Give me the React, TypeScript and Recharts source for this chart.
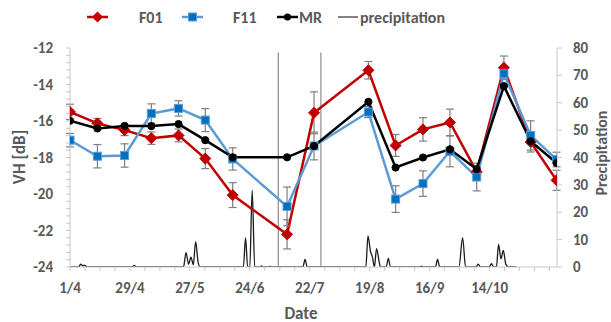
import React from 'react';
import { ComposedChart, Line, XAxis, YAxis, ErrorBar, ReferenceLine } from 'recharts';

// Days since 1 April for each SAR acquisition
const sarDays = [0, 12.8, 25.5, 38.0, 50.7, 63.2, 76.0, 101.4, 114.0, 139.4, 152.1, 164.9, 177.5, 190.0, 202.7, 215.2, 227.3];
const f01 = [-15.5, -16.13, -16.5, -16.94, -16.79, -18.06, -20.06, -22.21, -15.55, -13.22, -17.34, -16.46, -16.08, -18.79, -13.08, -17.15, -19.25];
const f01Err = [0.42, 0.27, 0.3, 0.34, 0.35, 0.55, 0.68, 0.8, 1.15, 0.48, 0.6, 0.64, 0.73, 0.3, 0.64, 0.55, 0.55];
const f11 = [-17.05, -17.93, -17.89, -15.59, -15.31, -15.95, -18.08, -20.68, -17.37, -15.51, -20.28, -19.43, -17.66, -19.07, -13.41, -16.79, -18.11];
const f11Err = [0.37, 0.64, 0.64, 0.53, 0.42, 0.63, 0.61, 1.06, 0.76, 0.3, 0.73, 0.7, 0.85, 0.76, 0.3, 0.8, 0.4];
const mr = [-15.99, -16.41, -16.27, -16.28, -16.17, -17.05, -17.99, -17.99, -17.37, -14.95, -18.55, -18.0, -17.55, -18.64, -14.09, -17.11, -18.3];

// Precipitation (mm), day since 1 April
const precipDays = [0, 4, 5, 6, 7, 8, 29, 30, 31, 53, 54.2, 55.4, 56.5, 57.6, 58.7, 59.8, 60.8, 81, 82, 83, 84, 85.1, 86.3, 89, 89.5, 90, 93, 93.5, 94, 108.8, 109.8, 110.8, 138.2, 139.2, 140.3, 141.3, 142.2, 143.2, 144.4, 145, 147.7, 148.7, 149.7, 163.5, 164.2, 165, 170.7, 171.7, 172.7, 181.7, 183.4, 184.8, 189.7, 190.7, 191.7, 195.9, 196.9, 197.9, 199.2, 200.2, 201.3, 202.4, 203.6, 204.8, 208.6];
const precipVals = [0, 0, 1.0, 0.5, 0.6, 0, 0, 0.6, 0, 0, 5.2, 1.0, 3.6, 0.8, 9.3, 2.0, 0, 0, 10.7, 0, 0, 28, 0, 0, 0.4, 0, 0, 0.3, 0, 0, 2.8, 0, 0, 11.4, 6.0, 3.5, 0, 6.7, 2.0, 0, 0, 3.1, 0, 0, 0.3, 0, 0, 2.8, 0, 0, 10.7, 0, 0, 1.0, 0, 0, 1.2, 0, 0, 8.3, 3.0, 6.1, 1.0, 0, 0];

const xTicks = [0, 7, 14, 21, 28, 35, 42, 49, 56, 63, 70, 77, 84, 91, 98, 105, 112, 119, 126, 133, 140, 147, 154, 161, 168, 175, 182, 189, 196, 203, 210, 217, 224];
const xLabelDays = [0, 28, 56, 84, 112, 140, 168, 196];
const xLabels = ['1/4', '29/4', '27/5', '24/6', '22/7', '19/8', '16/9', '14/10'];
const leftTicks = [-24, -23.6, -23.2, -22.8, -22.4, -22, -21.6, -21.2, -20.8, -20.4, -20, -19.6, -19.2, -18.8, -18.4, -18, -17.6, -17.2, -16.8, -16.4, -16, -15.6, -15.2, -14.8, -14.4, -14, -13.6, -13.2, -12.8, -12.4, -12];
const leftMajor = [-24, -22, -20, -18, -16, -14, -12];
const rightTicks = [0, 10, 20, 30, 40, 50, 60, 70, 80];
const markerDays = [97.3, 117.2];

const sarData = sarDays.map((d, i) => ({ d, f01: f01[i], f01Err: f01Err[i], f11: f11[i], f11Err: f11Err[i], mr: mr[i] }));
const precipData = precipDays.map((d, i) => ({ d, p: precipVals[i] }));

const FONT = 'Carlito, Lato, "Open Sans", sans-serif';
const TXT = '#595959';
const AX = '#c8c8c8';

const Diamond = (props: any) => {
  const { cx, cy, index } = props;
  if (cx == null || cy == null) return <g key={index} />;
  const s = 5.5;
  return <path key={index} d={`M${cx},${cy - s}L${cx + s},${cy}L${cx},${cy + s}L${cx - s},${cy}Z`} fill="#C00000" stroke="#C00000" strokeWidth={1} />;
};
const Square = (props: any) => {
  const { cx, cy, index } = props;
  if (cx == null || cy == null) return <g key={index} />;
  const s = 4;
  return <rect key={index} x={cx - s} y={cy - s} width={2 * s} height={2 * s} fill="#0070C0" stroke="#5B9BD5" strokeWidth={1} />;
};
const Circle = (props: any) => {
  const { cx, cy, index } = props;
  if (cx == null || cy == null) return <g key={index} />;
  return <circle key={index} cx={cx} cy={cy} r={3.6} fill="#000" stroke="#000" />;
};

const LeftTick = (props: any) => {
  const { x, y, payload } = props;
  if (!leftMajor.includes(payload.value)) return <g />;
  return (
    <text x={x} y={y} textAnchor="end" dominantBaseline="central" fill={TXT} fontFamily={FONT} fontWeight={700} fontSize={15}>
      {payload.value}
    </text>
  );
};
const RightTick = (props: any) => {
  const { x, y, payload } = props;
  return (
    <text x={x} y={y} textAnchor="start" dominantBaseline="central" fill={TXT} fontFamily={FONT} fontWeight={700} fontSize={15}>
      {payload.value}
    </text>
  );
};
const BottomTick = (props: any) => {
  const { x, payload } = props;
  const idx = xLabelDays.indexOf(payload.value);
  if (idx < 0) return <g />;
  return (
    <text x={x} y={288} textAnchor="middle" dominantBaseline="central" fill={TXT} fontFamily={FONT} fontWeight={700} fontSize={15}>
      {xLabels[idx]}
    </text>
  );
};

const Overlay = () => (
  <svg width={611} height={322} style={{ position: 'absolute', left: 0, top: 0, pointerEvents: 'none' }}>
    <g fontFamily={FONT} fontWeight={700} fontSize={16} fill={TXT}>
      <line x1={87} y1={17} x2={108} y2={17} stroke="#C00000" strokeWidth={2.5} />
      <path d="M97.5,11.5L103,17L97.5,22.5L92,17Z" fill="#C00000" />
      <text x={139} y={17} dominantBaseline="central">F01</text>
      <line x1={182} y1={17} x2={203} y2={17} stroke="#5B9BD5" strokeWidth={2.5} />
      <rect x={188.5} y={13} width={8} height={8} fill="#0070C0" stroke="#5B9BD5" />
      <text x={233} y={17} dominantBaseline="central">F11</text>
      <line x1={277} y1={17} x2={298} y2={17} stroke="#000" strokeWidth={2.5} />
      <circle cx={287.5} cy={17} r={3.6} fill="#000" />
      <text x={299} y={17} dominantBaseline="central">MR</text>
      <line x1={338} y1={17} x2={358} y2={17} stroke="#595959" strokeWidth={1.5} />
      <text x={360} y={17} dominantBaseline="central">precipitation</text>
      <text x={19.5} y={157} textAnchor="middle" dominantBaseline="central" fontSize={17} transform="rotate(-90 19.5 157)">VH [dB]</text>
      <text x={601} y={153} textAnchor="middle" dominantBaseline="central" fontSize={16} transform="rotate(-90 601 153)">Precipitation</text>
      <text x={301} y={313} textAnchor="middle" dominantBaseline="central" fontSize={17}>Date</text>
    </g>
  </svg>
);

export default function App() {
  return (
    <div style={{ position: 'absolute', left: 0, top: 0, width: 611, height: 322, background: '#fff' }}>
      <ComposedChart width={611} height={322} data={sarData} margin={{ top: 48, right: 0, bottom: 0, left: 0 }}>
        <XAxis
          dataKey="d"
          type="number"
          domain={[0, 227.5]}
          ticks={xTicks}
          interval={0}
          allowDataOverflow
          height={55}
          stroke={AX}
          tickSize={4}
          tickLine={{ stroke: AX }}
          tick={<BottomTick />}
        />
        <YAxis
          yAxisId="left"
          orientation="left"
          domain={[-24, -12]}
          ticks={leftTicks}
          interval={0}
          width={70}
          stroke={AX}
          tickSize={4}
          tickMargin={13}
          tickLine={{ stroke: AX }}
          tick={<LeftTick />}
          allowDataOverflow
        />
        <YAxis
          yAxisId="right"
          orientation="right"
          domain={[0, 80]}
          ticks={rightTicks}
          interval={0}
          width={54}
          stroke={AX}
          tickSize={5}
          tickMargin={11}
          tickLine={{ stroke: AX }}
          tick={<RightTick />}
          allowDataOverflow
        />
        {markerDays.map((m) => (
          <ReferenceLine
            key={m}
            yAxisId="left"
            segment={[{ x: m, y: -24 }, { x: m, y: -12.25 }]}
            stroke="#8c8c8c"
            strokeWidth={1.2}
          />
        ))}
        <Line
          yAxisId="right"
          data={precipData}
          dataKey="p"
          type="monotone"
          stroke="#1a1a1a"
          strokeWidth={1.3}
          dot={false}
          isAnimationActive={false}
        />
        <Line yAxisId="left" dataKey="f01" stroke="#C00000" strokeWidth={2.5} dot={<Diamond />} isAnimationActive={false}>
          <ErrorBar dataKey="f01Err" direction="y" width={4} stroke="#7f7f7f" strokeWidth={1.2} />
        </Line>
        <Line yAxisId="left" dataKey="f11" stroke="#5B9BD5" strokeWidth={2.5} dot={<Square />} isAnimationActive={false}>
          <ErrorBar dataKey="f11Err" direction="y" width={4} stroke="#7f7f7f" strokeWidth={1.2} />
        </Line>
        <Line yAxisId="left" dataKey="mr" stroke="#000000" strokeWidth={2.5} dot={<Circle />} isAnimationActive={false} />
      </ComposedChart>
      <Overlay />
    </div>
  );
}
